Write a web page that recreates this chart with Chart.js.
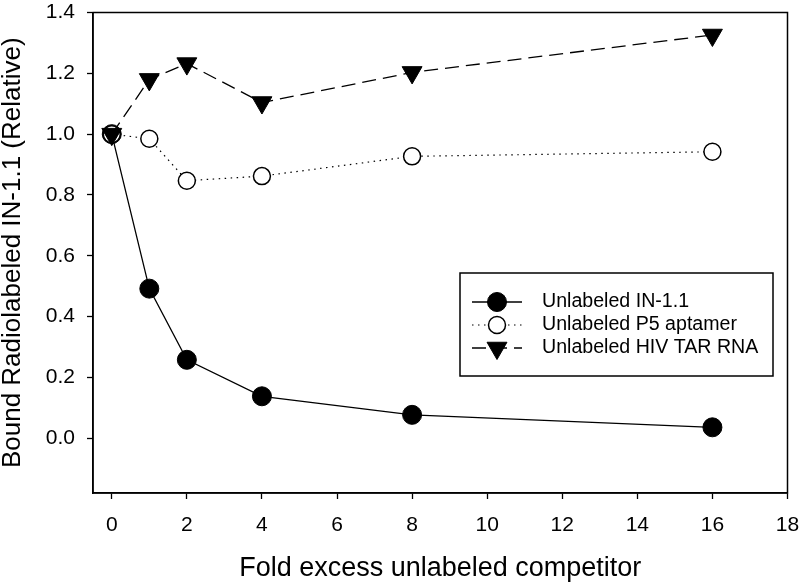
<!DOCTYPE html>
<html>
<head>
<meta charset="utf-8">
<script src="https://cdn.jsdelivr.net/npm/chart.js@4.4.1/dist/chart.umd.min.js"></script>
<style>
html,body{margin:0;padding:0;background:#fff;}
#wrap{width:800px;height:585px;}
</style>
</head>
<body>
<div id="wrap"><canvas id="c" width="800" height="585"></canvas></div>
<script>
const foldExcess = [0, 1, 2, 4, 8, 16];
const in11 = [1.0, 0.492, 0.258, 0.138, 0.077, 0.036];
const p5Aptamer = [1.0, 0.985, 0.847, 0.862, 0.927, 0.942];
const hivTar = [1.0, 1.18, 1.232, 1.104, 1.203, 1.326];
const seriesNames = ['Unlabeled IN-1.1', 'Unlabeled P5 aptamer', 'Unlabeled HIV TAR RNA'];
const xTicks = [0, 2, 4, 6, 8, 10, 12, 14, 16, 18];
const yTicks = [0.0, 0.2, 0.4, 0.6, 0.8, 1.0, 1.2, 1.4];

const FONT = "'Liberation Sans', Arial, sans-serif";
const toPts = ys => foldExcess.map((x, i) => ({x: x, y: ys[i]}));

const datasets = [
  {label: seriesNames[0], data: toPts(in11), borderColor: '#000', borderWidth: 1.3,
   pointStyle: 'circle', pointRadius: 9.5, pointBackgroundColor: '#000', pointBorderColor: '#000',
   pointBorderWidth: 1, order: 2},
  {label: seriesNames[1], data: toPts(p5Aptamer), borderColor: '#000', borderWidth: 1.2,
   borderDash: [1.5, 4.5], pointStyle: 'circle', pointRadius: 8.5, pointBackgroundColor: '#fff',
   pointBorderColor: '#000', pointBorderWidth: 1.5, order: 1},
  {label: seriesNames[2], data: toPts(hivTar), borderColor: '#000', borderWidth: 1.3,
   borderDash: [14, 7], pointStyle: 'triangle', rotation: 180, pointRadius: 11.5,
   pointBackgroundColor: '#000', pointBorderColor: '#000', pointBorderWidth: 1, order: 0}
];

const framePlugin = {
  id: 'frame',
  afterDatasetsDraw(chart) {
    const {ctx, chartArea: a} = chart;
    ctx.save();
    ctx.strokeStyle = '#000';
    ctx.lineWidth = 1.5;
    ctx.strokeRect(a.left, a.top, a.right - a.left, a.bottom - a.top);
    ctx.restore();
  }
};

const legendPlugin = {
  id: 'boxLegend',
  afterDraw(chart) {
    const ctx = chart.ctx;
    const bx = 460, by = 273, bw = 313, bh = 103;
    ctx.save();
    ctx.fillStyle = '#fff';
    ctx.fillRect(bx, by, bw, bh);
    ctx.strokeStyle = '#000';
    ctx.lineWidth = 1.5;
    ctx.strokeRect(bx, by, bw, bh);
    const rows = [302, 325, 348];
    [0, 1, 2].forEach((di, r) => {
      const ds = chart.data.datasets[di];
      const y = rows[r];
      ctx.save();
      ctx.strokeStyle = '#000';
      ctx.lineWidth = ds.borderWidth;
      ctx.setLineDash(ds.borderDash || []);
      ctx.beginPath();
      ctx.moveTo(472, y);
      ctx.lineTo(522, y);
      ctx.stroke();
      ctx.restore();
      ctx.save();
      ctx.fillStyle = ds.pointBackgroundColor;
      ctx.strokeStyle = ds.pointBorderColor;
      ctx.lineWidth = ds.pointBorderWidth;
      Chart.helpers.drawPoint(ctx, {pointStyle: ds.pointStyle, rotation: ds.rotation || 0,
        radius: ds.pointRadius, borderWidth: ds.pointBorderWidth}, 497, y);
      ctx.restore();
      ctx.fillStyle = '#000';
      ctx.font = '19.6px ' + FONT;
      ctx.textBaseline = 'middle';
      ctx.textAlign = 'left';
      ctx.fillText(ds.label, 542, y);
    });
    ctx.restore();
  }
};

new Chart(document.getElementById('c'), {
  type: 'line',
  data: {datasets: datasets},
  plugins: [framePlugin, legendPlugin],
  options: {
    responsive: false,
    animation: false,
    events: [],
    layout: {padding: {top: 8, right: 12, left: 0, bottom: 0}},
    plugins: {legend: {display: false}, tooltip: {enabled: false}},
    scales: {
      x: {
        type: 'linear', min: -0.5, max: 18,
        afterBuildTicks: s => { s.ticks = xTicks.map(v => ({value: v})); },
        afterFit: s => { s.height = 92; s.paddingLeft = 0; s.paddingRight = 0; },
        grid: {display: true, drawOnChartArea: false, drawTicks: true, tickLength: 6,
               tickColor: '#000', tickWidth: 1.3},
        border: {display: true, color: '#000', width: 1.5},
        ticks: {color: '#000', font: {family: FONT, size: 21}, padding: 14,
                maxRotation: 0, autoSkip: false, callback: v => String(v)},
        title: {display: true, text: 'Fold excess unlabeled competitor', color: '#000',
                font: {family: FONT, size: 27, lineHeight: 1.25}, padding: 0}
      },
      y: {
        type: 'linear', min: -0.18, max: 1.4,
        afterBuildTicks: s => { s.ticks = yTicks.map(v => ({value: v})); },
        afterFit: s => { s.width = 93; s.paddingTop = 0; s.paddingBottom = 0; },
        grid: {display: true, drawOnChartArea: false, drawTicks: true, tickLength: 6,
               tickColor: '#000', tickWidth: 1.3},
        border: {display: true, color: '#000', width: 1.5},
        ticks: {color: '#000', font: {family: FONT, size: 21}, padding: 12,
                autoSkip: false, callback: v => Number(v).toFixed(1)},
        title: {display: true, text: 'Bound Radiolabeled IN-1.1 (Relative)', color: '#000',
                font: {family: FONT, size: 26, lineHeight: 1.0}, padding: 0}
      }
    }
  }
});
</script>
</body>
</html>
